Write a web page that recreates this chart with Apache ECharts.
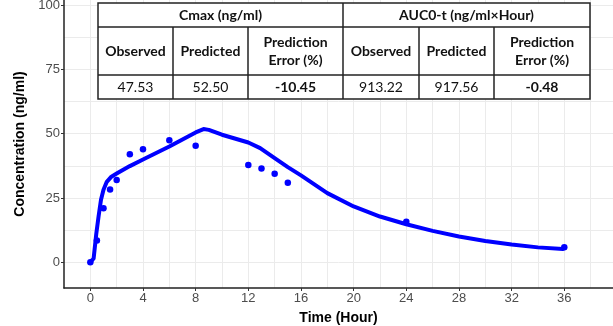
<!DOCTYPE html>
<html>
<head>
<meta charset="utf-8">
<script src="https://cdn.jsdelivr.net/npm/echarts@6/dist/echarts.min.js"></script>
<style>
html,body{margin:0;padding:0;background:#fff;}
#chart{width:613px;height:326px;}
</style>
</head>
<body>
<div id="chart"></div>
<script>
// Observed concentrations [time (h), conc (ng/ml)]
var observedTimes = [0, 0.5, 1, 1.5, 2, 3, 4, 6, 8, 12, 13, 14, 15, 24, 36];
var observedConc  = [0, 8.5, 21, 28.3, 32, 42, 44, 47.5, 45.3, 37.8, 36.5, 34.4, 30.9, 15.8, 5.8];
// Predicted profile
var predTimes = [0, 0.25, 0.45, 0.63, 0.81, 1.0, 1.25, 1.6, 2, 3, 4, 6, 8, 8.6, 9, 10, 12, 12.9, 14, 15, 16, 18, 20, 22, 24, 26, 28, 30, 32, 34, 35.9];
var predConc  = [0, 1.5, 11, 18, 24.3, 28.2, 31.3, 33.3, 34.5, 37.4, 40, 45, 50.5, 51.8, 51.5, 49.6, 46.6, 44.4, 40.5, 37, 33.8, 26.9, 21.7, 17.8, 14.8, 12.2, 10, 8.3, 6.9, 5.8, 5.2];
// Tick labels and gridlines
var xTicks = [0, 4, 8, 12, 16, 20, 24, 28, 32, 36];
var yTicks = [0, 25, 50, 75, 100];
var xGrid = [0, 2, 4, 6, 8, 10, 12, 14, 16, 18, 20, 22, 24, 26, 28, 30, 32, 34, 36, 38];
var yGrid = [0, 12.5, 25, 37.5, 50, 62.5, 75, 87.5, 100];
// Table content
var tableHeaders = ['Cmax (ng/ml)', 'AUC0-t (ng/ml×Hour)'];
var tableSubHeaders = ['Observed', 'Predicted', 'Prediction\nError (%)', 'Observed', 'Predicted', 'Prediction\nError (%)'];
var tableValues = ['47.53', '52.50', '-10.45', '913.22', '917.56', '-0.48'];
var tableBold = [false, false, true, false, false, true];

function zip(a, b) { return a.map(function (v, i) { return [v, b[i]]; }); }

var chart = echarts.init(document.getElementById('chart'));

// table layout
var colX = [98, 173, 248, 343, 419, 494, 590];
var rowY = [3, 27, 75, 99];
var FONT = 'Lato, "Open Sans", sans-serif';
var g = [];
g.push({type: 'rect', shape: {x: colX[0], y: rowY[0], width: colX[6] - colX[0], height: rowY[3] - rowY[0]},
  style: {fill: '#fff', stroke: '#222', lineWidth: 1.5}, z: 100});
[rowY[1], rowY[2]].forEach(function (y) {
  g.push({type: 'line', shape: {x1: colX[0], y1: y, x2: colX[6], y2: y}, style: {stroke: '#222', lineWidth: 1.5}, z: 101});
});
g.push({type: 'line', shape: {x1: colX[3], y1: rowY[0], x2: colX[3], y2: rowY[3]}, style: {stroke: '#222', lineWidth: 1.5}, z: 101});
[1, 2, 4, 5].forEach(function (i) {
  g.push({type: 'line', shape: {x1: colX[i], y1: rowY[1], x2: colX[i], y2: rowY[3]}, style: {stroke: '#222', lineWidth: 1.5}, z: 101});
});
function txt(x, y, s, bold, size) {
  g.push({type: 'text', x: x, y: y, z: 102, style: {text: s, x: 0, y: 0, align: 'center', verticalAlign: 'middle',
    font: (bold ? 'bold ' : '') + size + 'px ' + FONT, fill: '#111', lineHeight: 18}});
}
txt((colX[0] + colX[3]) / 2, (rowY[0] + rowY[1]) / 2, tableHeaders[0], true, 14);
txt((colX[3] + colX[6]) / 2, (rowY[0] + rowY[1]) / 2, tableHeaders[1], true, 14);
for (var i = 0; i < 6; i++) {
  var cx = (colX[i] + colX[i + 1]) / 2;
  txt(cx, (rowY[1] + rowY[2]) / 2, tableSubHeaders[i], true, 14);
  txt(cx, (rowY[2] + rowY[3]) / 2, tableValues[i], tableBold[i], 14);
}

var gridLineStyle = {color: '#ebebeb', width: 1, type: 'solid'};
var markData = xGrid.map(function (v) { return {xAxis: v}; }).concat(yGrid.map(function (v) { return {yAxis: v}; }));
var AXFONT = '"Liberation Sans", Arial, sans-serif';

chart.setOption({
  animation: false,
  backgroundColor: '#fff',
  grid: {left: 64, right: 0, top: 0, bottom: 38, containLabel: false, outerBoundsMode: 'none'},
  xAxis: {
    type: 'value', min: -2, max: 39.7,
    name: 'Time (Hour)', nameLocation: 'middle', nameGap: 23,
    nameTextStyle: {fontFamily: AXFONT, fontWeight: 'bold', fontSize: 14, color: '#000'},
    splitLine: {show: false},
    axisLine: {show: true, onZero: false, lineStyle: {color: '#222', width: 1.5}},
    axisTick: {show: true, customValues: xTicks, length: 3, lineStyle: {color: '#333'}},
    axisLabel: {customValues: xTicks, color: '#4d4d4d', fontSize: 13, margin: 4, fontFamily: AXFONT}
  },
  yAxis: {
    type: 'value', min: -10, max: 102,
    name: 'Concentration (ng/ml)', nameLocation: 'middle', nameGap: 33,
    nameTextStyle: {fontFamily: AXFONT, fontWeight: 'bold', fontSize: 14, color: '#000'},
    splitLine: {show: false},
    axisLine: {show: true, onZero: false, lineStyle: {color: '#222', width: 1.5}},
    axisTick: {show: true, customValues: yTicks, length: 3, lineStyle: {color: '#333'}},
    axisLabel: {customValues: yTicks, color: '#4d4d4d', fontSize: 13, margin: 4, fontFamily: AXFONT}
  },
  graphic: g,
  series: [
    {
      type: 'line', data: [], z: 0, silent: true,
      markLine: {z: 0, silent: true, symbol: ['none', 'none'], label: {show: false}, lineStyle: gridLineStyle, data: markData, animation: false}
    },
    {
      name: 'Predicted', type: 'line', data: zip(predTimes, predConc), showSymbol: false, smooth: false, z: 3,
      lineStyle: {color: '#0000ff', width: 4, cap: 'round', join: 'round'}, itemStyle: {color: '#0000ff'}
    },
    {
      name: 'Observed', type: 'scatter', data: zip(observedTimes, observedConc), symbolSize: 6.5, z: 4,
      itemStyle: {color: '#0000ff', opacity: 1}
    }
  ]
});
</script>
</body>
</html>
